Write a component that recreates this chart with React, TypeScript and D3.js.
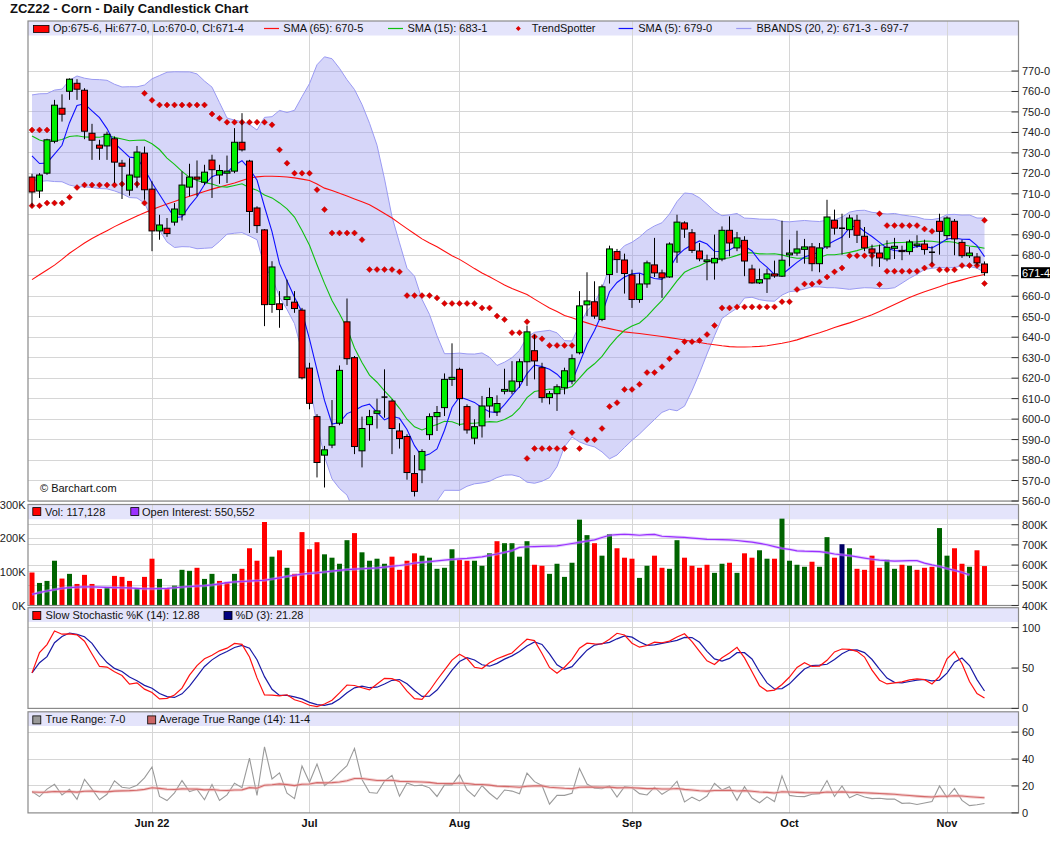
import * as d3 from 'd3';

const FONT = '"Liberation Sans", Arial, Helvetica, sans-serif';

// ZCZ22 daily bars, cents per bushel
const opens = [
  718.2, 711.4, 720.1, 735.7, 751.8, 760.1, 764.0, 760.6, 739.6, 733.8,
  733.4, 736.9, 725.0, 711.8, 718.2, 729.9, 712.3, 691.9, 693.2, 696.2,
  699.8, 713.3, 718.2, 715.7, 726.5, 719.2, 720.1, 721.1, 735.2, 726.0,
  703.1, 692.4, 656.0, 656.3, 658.4, 657.1, 653.2, 624.9, 601.2, 582.4,
  587.3, 598.0, 647.5, 630.0, 584.5, 597.3, 602.8, 610.75, 608.8, 594.2,
  591.5, 573.4, 575.2, 592.4, 601.2, 605.6, 619.4, 624.3, 606.1, 590.7,
  596.7, 606.4, 603.5, 613.6, 613.6, 618.3, 628.0, 633.4, 625.1, 610.5,
  612.4, 615.3, 618.6, 632.4, 655.8, 657.3, 648.7, 670.6, 681.8, 677.7,
  670.4, 658.4, 666.0, 675.3, 671.4, 669.4, 681.6, 695.8, 691.0, 682.1,
  676.9, 676.3, 678.2, 692.2, 683.6, 687.3, 673.3, 666.5, 668.5, 670.9,
  669.8, 680.2, 681.1, 682.9, 684.1, 675.9, 684.1, 697.1, 693.25, 692.5,
  697.1, 689.3, 683.1, 681.1, 678.2, 683.4, 682.4, 681.8, 684.7, 685.5,
  681.5, 696.6, 689.6, 696.6, 686.3, 679.8, 679.2, 675.75,
];
const highs = [
  719.8, 720.1, 736.9, 755.9, 758.6, 766.4, 766.0, 761.6, 744.2, 736.4,
  740.4, 738.0, 726.6, 727.4, 733.4, 733.1, 716.1, 699.8, 698.2, 705.5,
  721.0, 724.7, 726.3, 724.2, 729.1, 724.2, 728.7, 742.1, 749.4, 726.6,
  703.9, 692.8, 677.1, 662.5, 668.1, 662.5, 654.3, 627.5, 602.4, 586.9,
  609.3, 626.2, 658.9, 630.8, 601.2, 604.5, 610.0, 624.3, 609.7, 598.0,
  592.6, 582.4, 585.3, 602.8, 606.4, 622.3, 637.0, 625.1, 607.2, 599.9,
  611.3, 615.3, 611.6, 624.6, 628.3, 629.5, 645.7, 641.3, 627.5, 613.7,
  617.0, 625.1, 631.6, 662.5, 671.7, 667.3, 665.7, 684.7, 683.1, 680.8,
  673.0, 671.1, 677.4, 688.5, 673.0, 686.3, 699.8, 696.6, 692.8, 686.0,
  680.3, 690.1, 694.1, 699.0, 691.4, 689.3, 675.4, 673.5, 673.5, 677.4,
  696.9, 687.6, 692.0, 688.0, 686.0, 686.0, 707.1, 702.3, 700.3, 699.8,
  699.8, 693.8, 685.2, 685.2, 687.3, 688.5, 684.7, 687.6, 689.8, 687.6,
  684.4, 700.3, 699.0, 697.7, 687.6, 684.1, 681.1, 677.0,
];
const lows = [
  703.9, 708.0, 719.3, 734.7, 745.3, 755.9, 755.9, 736.7, 726.6, 726.6,
  726.6, 715.3, 707.5, 709.1, 712.8, 707.1, 682.0, 687.6, 689.0, 694.5,
  697.0, 708.8, 708.8, 714.4, 708.0, 714.9, 715.3, 720.1, 730.7, 690.9,
  690.9, 645.4, 651.9, 644.6, 655.2, 651.9, 619.4, 604.8, 571.5, 566.6,
  585.8, 597.0, 626.5, 582.9, 576.4, 589.4, 595.4, 600.7, 582.9, 585.6,
  570.4, 562.2, 568.7, 589.8, 594.2, 601.5, 616.2, 596.7, 592.9, 587.7,
  591.0, 600.7, 601.5, 612.1, 612.1, 615.3, 616.2, 619.4, 608.0, 607.2,
  604.0, 612.1, 617.0, 631.6, 650.3, 649.0, 647.8, 666.2, 671.4, 661.3,
  654.3, 656.8, 664.1, 669.4, 659.2, 669.0, 676.3, 688.5, 681.1, 677.1,
  667.8, 668.1, 677.1, 679.5, 682.0, 669.8, 666.2, 666.0, 661.6, 669.0,
  669.4, 674.6, 679.8, 675.9, 672.2, 671.7, 683.1, 690.1, 680.3, 688.5,
  686.0, 682.0, 674.6, 674.3, 677.1, 678.2, 677.6, 680.3, 683.6, 680.3,
  675.9, 680.3, 687.6, 680.0, 678.7, 678.7, 675.0, 670.0,
];
const closes = [
  710.9, 719.2, 736.4, 753.3, 748.9, 766.0, 761.1, 740.6, 736.2, 732.3,
  739.1, 725.5, 723.5, 719.2, 730.4, 712.0, 691.9, 694.8, 690.6, 702.6,
  714.3, 718.2, 717.2, 720.6, 721.8, 721.4, 721.1, 735.2, 731.5, 701.4,
  694.5, 655.9, 674.3, 653.5, 659.7, 654.0, 620.2, 607.7, 578.8, 585.0,
  596.3, 623.8, 629.5, 586.6, 595.4, 601.2, 604.0, 610.75, 595.4, 590.5,
  573.9, 564.7, 584.2, 601.2, 603.2, 619.4, 620.4, 610.0, 594.7, 596.3,
  606.4, 610.5, 607.6, 614.5, 618.6, 628.0, 642.6, 628.4, 610.5, 612.4,
  615.8, 623.6, 629.5, 655.3, 657.7, 650.3, 664.6, 683.1, 677.9, 671.1,
  658.4, 666.0, 676.3, 671.4, 669.0, 685.5, 696.2, 692.8, 682.4, 678.25,
  677.75, 678.5, 692.2, 686.0, 688.5, 677.2, 666.5, 668.1, 670.9, 669.9,
  677.6, 681.1, 683.1, 684.1, 675.9, 683.6, 698.7, 693.25, 693.25, 698.2,
  689.8, 683.6, 681.1, 678.7, 683.9, 684.4, 681.8, 686.5, 685.5, 682.8,
  681.5, 691.7, 698.2, 688.0, 679.8, 681.1, 676.3, 671.5,
];

// a few closes before the first bar, so BBANDS(20) / SMA(15) / SMA(5) start warm
const priorCloses = [
  725, 732, 740, 745, 739, 748, 752, 746, 738, 744,
  755, 750, 737, 733, 728, 738, 735, 732, 727,
];

const sma65 = [
  668.1, 670.5, 672.8, 675.2, 678.0, 681.0, 683.5, 686.0, 688.2, 690.1,
  692.0, 694.0, 695.8, 697.5, 699.2, 700.8, 702.3, 703.7, 705.0, 706.3,
  707.6, 708.8, 710.0, 711.2, 712.3, 713.3, 714.3, 715.3, 716.5, 717.7,
  718.3, 718.6, 718.6, 718.5, 718.2, 717.8, 717.2, 716.5, 714.8, 712.8,
  711.6, 710.3, 708.9, 707.5, 706.1, 704.7, 702.6, 700.4, 698.2, 695.6,
  693.0, 690.5, 688.0, 686.0, 684.2, 682.0, 679.8, 678.0, 675.8, 673.5,
  671.4, 669.5, 667.5, 665.5, 663.8, 662.3, 660.8, 658.6, 656.4, 654.3,
  652.5, 650.6, 649.5, 648.2, 647.0, 645.8, 645.0, 644.2, 643.4, 642.6,
  642.2, 641.8, 641.3, 640.8, 640.3, 639.8, 639.2, 638.6, 638.0, 637.4,
  636.8, 636.3, 635.8, 635.4, 635.2, 635.2, 635.3, 635.5, 635.8, 636.4,
  637.0, 637.8, 638.7, 639.9, 641.1, 642.2, 643.4, 644.7, 645.9, 647.0,
  648.3, 649.6, 651.0, 652.5, 654.3, 656.0, 657.7, 659.4, 660.9, 662.2,
  663.4, 664.6, 666.0, 667.0, 668.0, 669.0, 669.9, 670.6,
];

// TrendSpotter dots: above-price row and below-price row
const _ = null;
const trendUpper = [
  741.2, 741.2, 741.2, _, _, _, _, _, _, _,
  _, _, _, _, _, 759.1, 755.7, 753.4, 753.4, 753.4,
  753.4, 753.4, 753.4, 753.4, 749.0, 746.9, 745.0, 745.0, 745.0, 745.0,
  745.0, 745.0, 743.7, 731.5, 725.0, 720.1, 720.1, 720.1, 712.0, 702.3,
  690.9, 690.9, 690.9, 690.9, 687.6, 673.0, 673.0, 673.0, 673.0, 671.9,
  660.3, 660.3, 660.3, 660.3, 659.2, 656.5, 656.5, 656.5, 656.5, 656.5,
  654.3, 654.3, 650.3, 648.6, 642.2, 642.2, 647.5, 640.2, 639.2, 636.0,
  636.0, 636.0, 636.0, _, _, _, _, _, _, _,
  _, _, _, _, _, _, _, _, _, _,
  _, _, _, _, _, _, _, _, _, _,
  _, _, _, _, _, _, _, _, _, _,
  _, _, _, 700.3, 694.5, 694.5, 694.5, 694.5, 694.5, 692.8,
  691.7, _, _, _, _, _, _, 697.1,
];
const trendLower = [
  704.2, 704.2, 705.5, 705.5, 705.5, 708.3, 713.1, 714.3, 714.3, 714.3,
  714.3, 714.3, 714.8, 714.8, 714.8, 705.5, _, _, _, _,
  _, _, _, _, _, _, _, _, _, _,
  _, _, _, _, _, _, _, _, _, _,
  _, _, _, _, _, _, _, _, _, _,
  _, _, _, _, _, _, _, _, _, _,
  _, _, _, _, _, _, 580.8, 585.6, 585.6, 585.6,
  585.6, 585.6, 593.4, 585.6, 589.9, 589.9, 595.4, 606.1, 608.0, 614.5,
  614.5, 617.0, 622.7, 622.7, 625.6, 629.5, 632.9, 637.8, 637.8, 638.4,
  641.3, 645.7, 654.3, 654.3, 654.8, 654.8, 654.8, 654.8, 654.8, 654.8,
  657.3, 657.3, 663.3, 666.0, 666.0, 667.0, 669.4, 671.9, 673.8, 679.8,
  679.8, 679.8, 679.8, 665.7, 672.2, 672.2, 672.2, 672.2, 672.2, 673.8,
  675.4, 672.9, 672.9, 672.9, 675.0, 675.0, 675.0, 666.2,
];

// contracts, thousands
const volume = [
  98, 67, 73, 133, 80, 94, 64, 91, 64, 49,
  55, 88, 85, 73, 52, 85, 139, 79, 52, 59,
  106, 103, 112, 79, 94, 73, 70, 94, 109, 170,
  133, 248, 145, 164, 112, 94, 218, 167, 188, 152,
  142, 124, 194, 215, 158, 133, 139, 124, 145, 106,
  133, 155, 148, 142, 109, 112, 167, 136, 133, 133,
  118, 155, 191, 185, 185, 145, 191, 121, 118, 94,
  124, 85, 127, 255, 209, 185, 148, 212, 170, 142,
  139, 82, 118, 148, 112, 109, 194, 142, 118, 112,
  121, 97, 124, 127, 97, 155, 142, 164, 139, 139,
  258, 133, 121, 115, 130, 115, 203, 142, 182, 170,
  109, 106, 148, 112, 136, 109, 121, 118, 106, 112,
  115, 230, 148, 170, 124, 115, 164, 117.128,
];
const openInterest = [
  455, 464, 472, 479, 485, 489, 491, 492, 492, 491,
  490, 489, 488, 487, 485, 483, 483, 484, 485, 488,
  491, 494, 496, 498, 502, 507, 513, 517, 519, 521,
  523, 525, 531, 537, 544, 550, 555, 559, 562, 566,
  570, 574, 578, 580, 582, 584, 586, 590, 594, 598,
  603, 610, 614, 617, 621, 625, 628, 631, 633, 637,
  641, 648, 655, 663, 672, 688, 691, 692, 693, 694,
  695, 701, 707, 713, 719, 725, 737, 748, 751, 753,
  751, 748, 751, 752, 743, 741, 739, 737, 734, 731,
  728, 727, 726, 725, 722, 718, 714, 708, 701, 692,
  683, 678, 671, 669, 668, 667, 662, 655, 651, 647,
  641, 635, 629, 625, 622, 620, 621, 622, 622, 610,
  601, 593, 583, 574, 564, 551,
];
const atrStart = 15.5;

const monthLabels = ['Jun 22', 'Jul', 'Aug', 'Sep', 'Oct', 'Nov'];
const monthStart = [16, 37, 57, 80, 101, 122];

const priceTicks = [560, 570, 580, 590, 600, 610, 620, 630, 640, 650, 660, 670,
  680, 690, 700, 710, 720, 730, 740, 750, 760, 770];
const volTicks = [0, 100, 200, 300];
const oiTicks = [400, 500, 600, 700, 800];
const stochTicks = [0, 50, 100];
const trTicks = [0, 20, 40, 60];

const legendMain = 'Op:675-6, Hi:677-0, Lo:670-0, Cl:671-4';
const legendSma65 = 'SMA (65): 670-5';
const legendSma15 = 'SMA (15): 683-1';
const legendSma5 = 'SMA (5): 679-0';
const legendBB = 'BBANDS (20, 2): 671-3 - 697-7';
const legendVol = 'Vol: 117,128';
const legendOI = 'Open Interest: 550,552';
const legendK = 'Slow Stochastic %K (14): 12.88';
const legendD = '%D (3): 21.28';
const legendTR = 'True Range: 7-0';
const legendATR = 'Average True Range (14): 11-4';

const L = 28;
const R = 1018.5;
const panels = {
  main: { top: 21, band: 35.5, bottom: 501 },
  vol: { top: 504.5, band: 519.3, bottom: 605.5 },
  stoch: { top: 607.7, band: 621.9, bottom: 708.4 },
  tr: { top: 711.8, band: 726, bottom: 812.9 },
};

const GRID = '#d6d6d6';
const BAND = '#e4e4fb';
const FRAME = '#8a8a8a';
const UP = '#00f000';
const DOWN = '#ff0000';

const eighths = (v: number) => {
  const w = Math.floor(v);
  return `${w}-${Math.round((v - w) * 8)}`;
};

const diamond = (cx: number, cy: number, r: number) =>
  `M${cx},${cy - r}L${cx + r},${cy}L${cx},${cy + r}L${cx - r},${cy}Z`;

function Frame({ p }: { p: { top: number; band: number; bottom: number } }) {
  return (
    <rect x={L} y={p.top} width={R - L} height={p.bottom - p.top}
      fill="none" stroke={FRAME} strokeWidth={1.2} />
  );
}

export default function App() {
  const n = closes.length;
  const off = priorCloses.length;
  const ext = priorCloses.concat(closes);

  const x = d3.scaleLinear().domain([0, n - 1]).range([32, 984.5]);
  const y = d3.scaleLinear().domain([560, 770]).range([501, 71]);
  const yVol = d3.scaleLinear().domain([0, 300]).range([605.5, 504.5]);
  const yOI = d3.scaleLinear().domain([400, 800]).range([605.5, 524.75]);
  const yStoch = d3.scaleLinear().domain([0, 100]).range([708.4, 627.65]);
  const yTR = d3.scaleLinear().domain([0, 60]).range([812.9, 732.1]);

  // indicators derived from the bars
  const sma = (p: number) =>
    closes.map((_c, i) => d3.mean(ext.slice(i + off - p + 1, i + off + 1)) as number);
  const sma5 = sma(5);
  const sma15 = sma(15);
  const bands = closes.map((_c, i) => {
    const w = ext.slice(i + off - 19, i + off + 1);
    const m = d3.mean(w) as number;
    const sd = Math.sqrt(d3.mean(w, (v) => (v - m) ** 2) as number);
    return { u: m + 2 * sd, l: m - 2 * sd };
  });

  const fastK = closes.map((c, i) => {
    const a = Math.max(0, i - 13);
    const hh = d3.max(highs.slice(a, i + 1)) as number;
    const ll = d3.min(lows.slice(a, i + 1)) as number;
    return ((c - ll) / (hh - ll)) * 100;
  });
  const slowK = fastK.map((_k, i) => d3.mean(fastK.slice(Math.max(0, i - 2), i + 1)) as number);
  const pctD = slowK.map((_k, i) => d3.mean(slowK.slice(Math.max(0, i - 2), i + 1)) as number);

  const trueRange = closes.map((_c, i) =>
    i === 0
      ? highs[0] - lows[0]
      : Math.max(highs[i], closes[i - 1]) - Math.min(lows[i], closes[i - 1]));
  const atr: number[] = [];
  let prevAtr = atrStart;
  trueRange.forEach((t) => {
    prevAtr = (prevAtr * 13 + t) / 14;
    atr.push(prevAtr);
  });

  const prevClose = (i: number) => (i === 0 ? priorCloses[off - 1] : closes[i - 1]);
  const volColor = (i: number) => {
    const d = closes[i] - prevClose(i);
    if (d > 1e-6) return '#006400';
    if (d < -1e-6) return '#ff0000';
    return '#000066';
  };

  const line = (yy: d3.ScaleLinear<number, number>) =>
    d3.line<number>().x((_d, i) => x(i)).y((d) => yy(d));
  const priceLine = line(y);
  const bandArea = d3.area<{ u: number; l: number }>()
    .x((_d, i) => x(i)).y0((d) => y(d.l)).y1((d) => y(d.u));

  const lastClose = closes[n - 1];
  const yLast = y(lastClose);

  const legendText = (tx: number, ty: number, s: string) => (
    <text x={tx} y={ty} fontSize={11} fill="#111">{s}</text>
  );
  const legendBox = (bx: number, by: number, c: string) => (
    <rect x={bx} y={by} width={8} height={8} fill={c} stroke="#000" strokeWidth={0.8} />
  );

  const vGrid = (p: { top: number; bottom: number }) =>
    monthStart.map((i) => (
      <line key={`g${i}`} x1={x(i)} x2={x(i)} y1={p.top} y2={p.bottom}
        stroke={GRID} strokeWidth={1} shapeRendering="crispEdges" />
    ));
  const hGrid = (vals: number[], s: d3.ScaleLinear<number, number>, k: string) =>
    vals.map((v) => (
      <line key={`${k}${v}`} x1={L} x2={R} y1={s(v)} y2={s(v)}
        stroke={GRID} strokeWidth={1} shapeRendering="crispEdges" />
    ));
  const rightLabels = (vals: number[], s: d3.ScaleLinear<number, number>, f: (v: number) => string, k: string,
    hide?: (v: number) => boolean) =>
    vals.map((v) => (
      <g key={`${k}${v}`}>
        <line x1={R - 7} x2={R} y1={s(v)} y2={s(v)} stroke="#333" />
        {hide && hide(v) ? null : (
          <text x={R + 3.5} y={s(v) + 4} fontSize={11} fill="#222">{f(v)}</text>
        )}
      </g>
    ));

  const { main, vol, stoch, tr } = panels;

  return (
    <svg width={1060} height={851} fontFamily={FONT}
      style={{ position: 'absolute', left: 0, top: 0, background: '#fff' }}>
      <defs>
        <clipPath id="mainClip">
          <rect x={L} y={main.band} width={R - L} height={main.bottom - main.band} />
        </clipPath>
      </defs>
      <rect width={1060} height={851} fill="#fff" />

      <text x={10} y={13} fontSize={13} fontWeight="bold" fill="#111">
        ZCZ22 - Corn - Daily Candlestick Chart
      </text>

      {/* price panel */}
      <rect x={L} y={main.top} width={R - L} height={main.band - main.top} fill={BAND} />
      {hGrid(priceTicks, y, 'p')}
      {vGrid(main)}
      <g clipPath="url(#mainClip)">
        <path d={bandArea(bands) ?? ''} fill="#9999f0" fillOpacity={0.4} />
        <path d={priceLine(bands.map((b) => b.u)) ?? ''} fill="none" stroke="#9a9af2" strokeWidth={1} />
        <path d={priceLine(bands.map((b) => b.l)) ?? ''} fill="none" stroke="#9a9af2" strokeWidth={1} />
        <path d={priceLine(sma65) ?? ''} fill="none" stroke="#ff1010" strokeWidth={1.1} />
        <path d={priceLine(sma15) ?? ''} fill="none" stroke="#10c010" strokeWidth={1.1} />
        <path d={priceLine(sma5) ?? ''} fill="none" stroke="#1010ff" strokeWidth={1.1} />
        {[trendUpper, trendLower].map((row, r) =>
          row.map((v, i) =>
            v === null ? null : (
              <path key={`t${r}-${i}`} d={diamond(x(i), y(v), 3)} fill="#e00000" stroke="#a00000" strokeWidth={0.4} />
            )))}
        {closes.map((c, i) => {
          const o = opens[i];
          const cx = x(i);
          const top = y(Math.max(o, c));
          const bot = y(Math.min(o, c));
          const flat = Math.abs(o - c) < 1e-6;
          return (
            <g key={`c${i}`}>
              <line x1={cx} x2={cx} y1={y(highs[i])} y2={y(lows[i])} stroke="#000" strokeWidth={1} />
              {flat ? (
                <line x1={cx - 3} x2={cx + 3} y1={top} y2={top} stroke="#000" strokeWidth={1.5} />
              ) : (
                <rect x={cx - 3} y={top} width={6} height={Math.max(1, bot - top)}
                  fill={c > o ? UP : DOWN} stroke="#000" strokeWidth={1} />
              )}
            </g>
          );
        })}
      </g>
      <text x={40} y={492} fontSize={11} fill="#111">© Barchart.com</text>
      <Frame p={main} />
      {rightLabels(priceTicks, y, (v) => `${v}-0`, 'pl', (v) => Math.abs(y(v) - yLast) < 11)}
      <rect x={R + 2.5} y={yLast - 5.5} width={29} height={11} fill="#000" />
      <text x={R + 3.5} y={yLast + 4} fontSize={11} fill="#fff">{eighths(lastClose)}</text>

      <rect x={33.5} y={25.4} width={15.5} height={7} fill="#ff0000" stroke="#000" strokeWidth={0.8} />
      {legendText(53, 32, legendMain)}
      <line x1={264} x2={279} y1={28.5} y2={28.5} stroke="#ff1010" strokeWidth={1.2} />
      {legendText(283.3, 32, legendSma65)}
      <line x1={388} x2={403} y1={28.5} y2={28.5} stroke="#10c010" strokeWidth={1.2} />
      {legendText(407.4, 32, legendSma15)}
      <path d={diamond(518.3, 28.5, 2.5)} fill="#e00000" />
      {legendText(531.7, 32, 'TrendSpotter')}
      <line x1={618.6} x2={633.1} y1={28.5} y2={28.5} stroke="#1010ff" strokeWidth={1.2} />
      {legendText(638.2, 32, legendSma5)}
      <line x1={736.2} x2={751.4} y1={28.5} y2={28.5} stroke="#9a9af2" strokeWidth={1.2} />
      {legendText(756.5, 32, legendBB)}

      {/* volume + open interest */}
      <rect x={L} y={vol.top} width={R - L} height={vol.band - vol.top} fill={BAND} />
      {hGrid([100, 200], yVol, 'v')}
      {hGrid([500, 600, 700, 800], yOI, 'o')}
      {vGrid(vol)}
      {volume.map((v, i) => (
        <rect key={`v${i}`} x={x(i) - 2.5} y={yVol(v)} width={5} height={yVol(0) - yVol(v)}
          fill={volColor(i)} />
      ))}
      <path d={line(yOI)(openInterest) ?? ''} fill="none" stroke="#c8a0ff" strokeWidth={3} strokeOpacity={0.5} />
      <path d={line(yOI)(openInterest) ?? ''} fill="none" stroke="#9b30ff" strokeWidth={1.2} />
      <Frame p={vol} />
      {volTicks.map((v) => (
        <text key={`vl${v}`} x={25.5} y={yVol(v) + 4} fontSize={11} fill="#222" textAnchor="end">{`${v}K`}</text>
      ))}
      {rightLabels(oiTicks, yOI, (v) => `${v}K`, 'ol')}
      {legendBox(32.8, 507.6, '#ff0000')}
      {legendText(45, 516, legendVol)}
      {legendBox(130.8, 507.6, '#9b30ff')}
      {legendText(142, 516, legendOI)}

      {/* slow stochastic */}
      <rect x={L} y={stoch.top} width={R - L} height={stoch.band - stoch.top} fill={BAND} />
      {hGrid([50, 100], yStoch, 's')}
      {vGrid(stoch)}
      <path d={line(yStoch)(pctD) ?? ''} fill="none" stroke="#1a1aa6" strokeWidth={1.2} />
      <path d={line(yStoch)(slowK) ?? ''} fill="none" stroke="#ff1010" strokeWidth={1.2} />
      <Frame p={stoch} />
      {rightLabels(stochTicks, yStoch, (v) => `${v}`, 'sl')}
      {legendBox(32.8, 611.5, '#ff0000')}
      {legendText(45.6, 619, legendK)}
      {legendBox(224, 611.5, '#000080')}
      {legendText(235.6, 619, legendD)}

      {/* true range */}
      <rect x={L} y={tr.top} width={R - L} height={tr.band - tr.top} fill={BAND} />
      {hGrid([20, 40, 60], yTR, 'r')}
      {vGrid(tr)}
      <path d={line(yTR)(trueRange) ?? ''} fill="none" stroke="#9a9a9a" strokeWidth={1.1} />
      <path d={line(yTR)(atr) ?? ''} fill="none" stroke="#eab0b0" strokeWidth={3} strokeOpacity={0.6} />
      <path d={line(yTR)(atr) ?? ''} fill="none" stroke="#d46a6a" strokeWidth={1.1} />
      <Frame p={tr} />
      {rightLabels(trTicks, yTR, (v) => `${v}`, 'rl')}
      {legendBox(32.8, 715.9, '#999999')}
      {legendText(45.6, 723, legendTR)}
      {legendBox(147.7, 715.9, '#cc6666')}
      {legendText(158.9, 723, legendATR)}

      {monthStart.map((i, k) => (
        <text key={`m${i}`} x={x(i)} y={827} fontSize={11} fontWeight="bold" fill="#111" textAnchor="middle">
          {monthLabels[k]}
        </text>
      ))}
    </svg>
  );
}
